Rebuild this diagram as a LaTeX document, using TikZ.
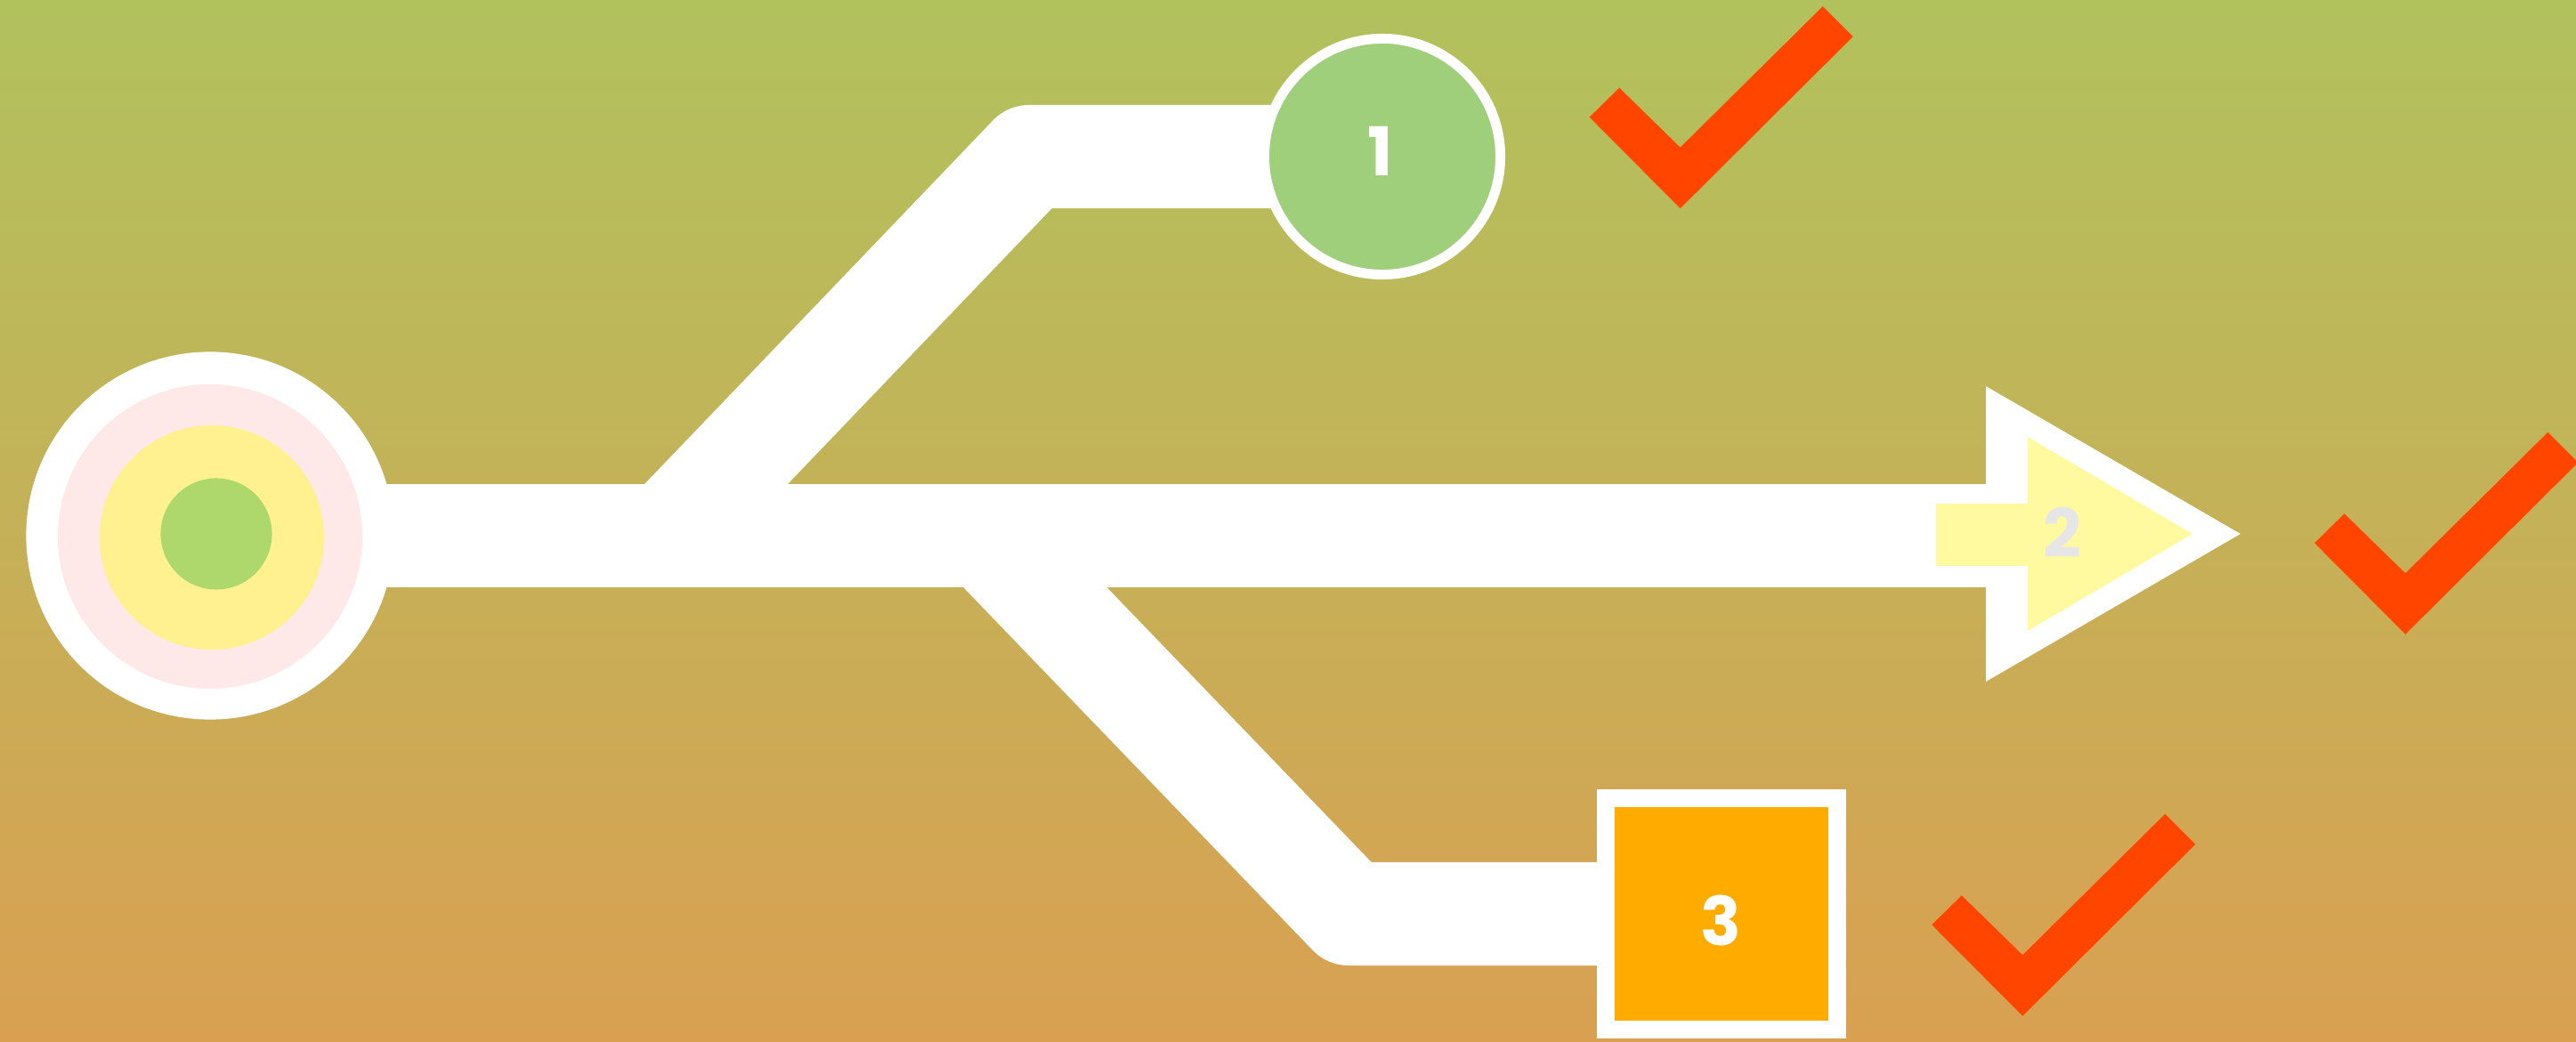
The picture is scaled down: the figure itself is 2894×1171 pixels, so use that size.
\documentclass[tikz,border=0pt]{standalone}
\usepackage{fontspec}
\newfontfamily\numfont{Poppins}
\usetikzlibrary{calc}
\definecolor{bgtop}{HTML}{B1C25D}
\definecolor{bgbot}{HTML}{D9A052}
\definecolor{ringpink}{HTML}{FFE9E8}
\definecolor{ringyellow}{HTML}{FFF18F}
\definecolor{dotgreen}{HTML}{AED86B}
\definecolor{onegreen}{HTML}{A0CF7B}
\definecolor{arrowyellow}{HTML}{FFFA9F}
\definecolor{boxorange}{HTML}{FFAB00}
\definecolor{tickred}{HTML}{FF4500}
\definecolor{twogray}{HTML}{E6E6E6}
\pgfdeclarelayer{back}
\pgfdeclarelayer{bars}
\pgfsetlayers{back,bars,main}
\tikzset{
  disc/.style={circle, inner sep=0pt, outer sep=0pt},
  bar/.style={draw=white, line width=1.16cm, line join=round, line cap=butt},
  num/.style={font=\numfont\bfseries\fontsize{21.5}{24}\selectfont, inner sep=0pt},
  tick/.pic={\fill[tickred] (-102,-34) -- (-68.5,-67) -- (0,0) -- (160,-158.5) -- (194,-124.5) -- (0,68.5) -- cycle;}
}
\begin{document}
\begin{tikzpicture}[x=0.01cm, y=-0.01cm]
\useasboundingbox (0,0) rectangle (2894,1171);
\begin{pgfonlayer}{back}
\shade[top color=bgtop, bottom color=bgbot] (0,0) rectangle (2894,1171);
\end{pgfonlayer}
% source target
\node[disc, fill=white, minimum size=4.13cm] (src) at (236,602) {};
\node[disc, fill=ringpink, minimum size=3.42cm] (srcp) at (236,603) {};
\node[disc, fill=ringyellow, minimum size=2.52cm] (srcy) at (238,604) {};
\node[disc, fill=dotgreen, minimum size=1.25cm] (srcg) at (243,600) {};
% node 1
\node[disc, fill=onegreen, draw=white, line width=0.11cm, minimum size=2.65cm] (n1) at (1553,176) {};
\node[num, text=white] (t1) at (1551,170) {1};
% node 2 (arrow)
\coordinate (arr) at (2240,602);
\fill[white] (2231,434) -- (2517,600) -- (2231,766) -- cycle;
\fill[arrowyellow] (2278,491) -- (2463,600) -- (2278,709) -- cycle;
\fill[arrowyellow] (2175,566) rectangle (2280,636);
\node[num, text=twogray] (t2) at (2317,598) {2};
% node 3
\node[rectangle, inner sep=0pt, fill=boxorange, draw=white, line width=0.2cm, minimum width=2.6cm, minimum height=2.59cm] (n3) at (1934,1027) {};
\node[num, text=white] (t3) at (1933,1034) {3};
% connectors
\coordinate (j1) at (749,602);
\coordinate (k1) at (1157,176);
\coordinate (j2) at (1107,602);
\coordinate (k2) at (1516,1027);
\begin{pgfonlayer}{bars}
\draw[bar] (src.center) -- (arr);
\draw[bar] (j1) -- (k1) -- (n1.center);
\draw[bar] (j2) -- (k2) -- (n3.center);
\end{pgfonlayer}
% checks
\pic at (1887.7,165.7) {tick};
\pic at (2702.3,644.3) {tick};
\pic at (2272.3,1073.3) {tick};
\end{tikzpicture}
\end{document}
